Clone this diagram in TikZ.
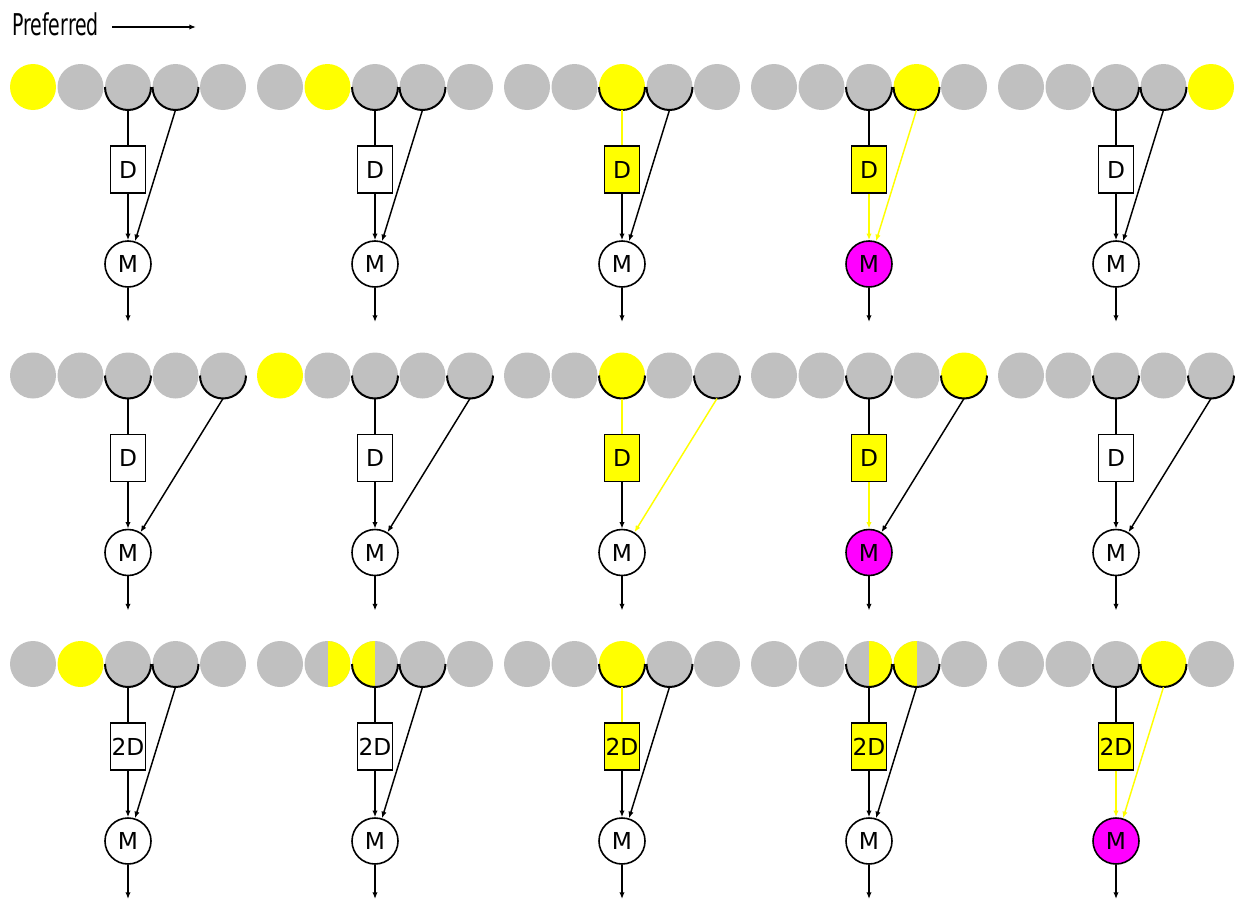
\documentclass[tikz,border=0pt]{standalone}
\usepackage{fontspec}
\setmainfont{DejaVu Sans}
\newfontfamily\narrowfont[FakeStretch=0.63]{DejaVu Sans}
\usetikzlibrary{arrows.meta}
\definecolor{tapgray}{RGB}{192,192,192}
\definecolor{tapyellow}{RGB}{255,255,0}
\definecolor{mixpink}{RGB}{255,0,255}

% one filter: five taps, delay box, mixer
% #1 name, #2 delay label, #3 tap that goes straight to the mixer
\newcommand{\filterpanel}[3]{%
  \foreach \k in {1,...,5}
    \node[cell, cell\k] (#1-\k) at ({(\k-1)*47.5},0) {};
  \foreach \k in {3,#3}
    \draw[arcline] (#1-\k.west) arc[start angle=180, end angle=360, radius=23];
  \node[delay] (#1-d) at (95,-82.5) {#2};
  \node[mixer] (#1-m) at (95,-177) {M};
  \coordinate (#1-o) at (95,-235);
  \draw[wire, feed] (#1-3.south) -- (#1-d.north);
  \draw[sig, dm] (#1-d.south) -- (#1-m.north);
  \draw[sig, bypass] (#1-#3.south) -- (#1-m);
  \draw[sig] (#1-m.south) -- (#1-o);
}

\begin{document}
\begin{tikzpicture}[x=0.75pt, y=0.75pt,
  cell/.style={circle, fill=tapgray, minimum size=34.5pt, inner sep=0pt, outer sep=0pt},
  cell1/.style={}, cell2/.style={}, cell3/.style={}, cell4/.style={}, cell5/.style={},
  lit/.style={fill=tapyellow},
  mag/.style={fill=mixpink},
  hot/.style={draw=tapyellow},
  lefthalf/.style={path picture={\fill[tapyellow] (path picture bounding box.south west)
    rectangle (path picture bounding box.north);}},
  righthalf/.style={path picture={\fill[tapyellow] (path picture bounding box.south)
    rectangle (path picture bounding box.north east);}},
  feed/.style={}, dm/.style={}, bypass/.style={}, dstate/.style={}, mstate/.style={},
  arcline/.style={draw=black, line width=1.5pt},
  wire/.style={draw=black, line width=1.1pt},
  sig/.style={wire, -{Latex[length=5pt, width=4pt]}},
  delay/.style={draw, line width=1.2pt, fill=white, minimum width=26pt, minimum height=35pt,
    inner sep=0pt, font=\fontsize{17.5}{18}\selectfont, dstate},
  mixer/.style={circle, draw, line width=1.2pt, fill=white, minimum size=34.5pt,
    inner sep=0pt, font=\fontsize{17.5}{18}\selectfont, mstate}]
\useasboundingbox (0,0) rectangle (1235,-903);

\node[anchor=base west, inner sep=0pt, font=\narrowfont\fontsize{22.5}{24}\selectfont]
  (pref) at (12,-35) {Preferred};
\coordinate (pref-a) at (112,-27);
\coordinate (pref-b) at (196,-27);
\draw[sig] (pref-a) -- (pref-b);

% first row
\begin{scope}[shift={(33,-87)}, cell1/.style=lit]
  \filterpanel{ra1}{D}{4}
\end{scope}
\begin{scope}[shift={(280,-87)}, cell2/.style=lit]
  \filterpanel{ra2}{D}{4}
\end{scope}
\begin{scope}[shift={(527,-87)}, cell3/.style=lit, feed/.style=hot, dstate/.style=lit]
  \filterpanel{ra3}{D}{4}
\end{scope}
\begin{scope}[shift={(774,-87)}, cell4/.style=lit, dstate/.style=lit, dm/.style=hot,
    bypass/.style=hot, mstate/.style=mag]
  \filterpanel{ra4}{D}{4}
\end{scope}
\begin{scope}[shift={(1021,-87)}, cell5/.style=lit]
  \filterpanel{ra5}{D}{4}
\end{scope}

% second row
\begin{scope}[shift={(33,-375.5)}]
  \filterpanel{rb1}{D}{5}
\end{scope}
\begin{scope}[shift={(280,-375.5)}, cell1/.style=lit]
  \filterpanel{rb2}{D}{5}
\end{scope}
\begin{scope}[shift={(527,-375.5)}, cell3/.style=lit, feed/.style=hot, dstate/.style=lit,
    bypass/.style=hot]
  \filterpanel{rb3}{D}{5}
\end{scope}
\begin{scope}[shift={(774,-375.5)}, cell5/.style=lit, dstate/.style=lit, dm/.style=hot,
    mstate/.style=mag]
  \filterpanel{rb4}{D}{5}
\end{scope}
\begin{scope}[shift={(1021,-375.5)}]
  \filterpanel{rb5}{D}{5}
\end{scope}

% third row
\begin{scope}[shift={(33,-664)}, cell2/.style=lit]
  \filterpanel{rc1}{2D}{4}
\end{scope}
\begin{scope}[shift={(280,-664)}, cell2/.style=righthalf, cell3/.style=lefthalf]
  \filterpanel{rc2}{2D}{4}
\end{scope}
\begin{scope}[shift={(527,-664)}, cell3/.style=lit, feed/.style=hot, dstate/.style=lit]
  \filterpanel{rc3}{2D}{4}
\end{scope}
\begin{scope}[shift={(774,-664)}, cell3/.style=righthalf, cell4/.style=lefthalf,
    dstate/.style=lit]
  \filterpanel{rc4}{2D}{4}
\end{scope}
\begin{scope}[shift={(1021,-664)}, cell4/.style=lit, dstate/.style=lit, dm/.style=hot,
    bypass/.style=hot, mstate/.style=mag]
  \filterpanel{rc5}{2D}{4}
\end{scope}
\end{tikzpicture}
\end{document}
